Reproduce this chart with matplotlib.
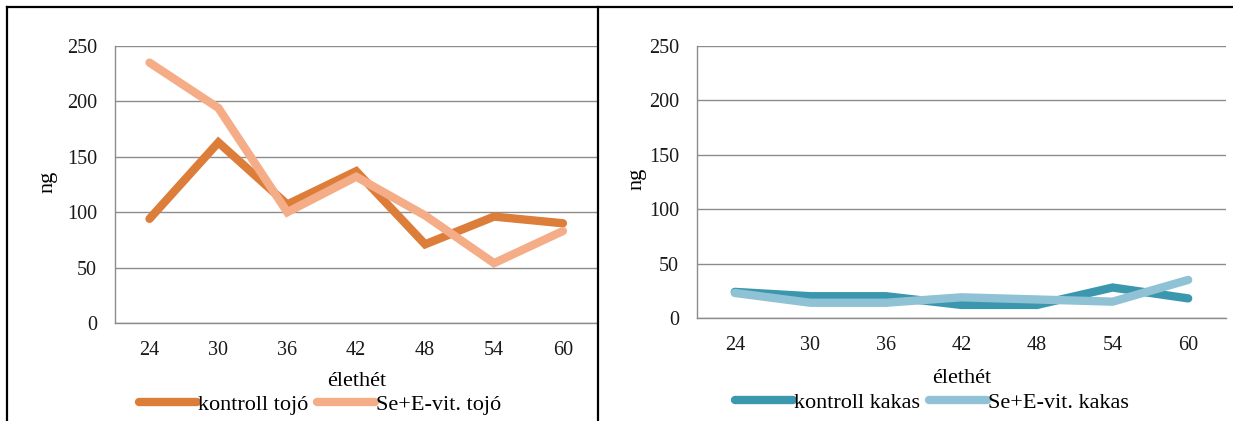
#!/usr/bin/env python3

import matplotlib
matplotlib.use("Agg")
import matplotlib.pyplot as plt
from matplotlib.lines import Line2D

weeks = ["24", "30", "36", "42", "48", "54", "60"]

kontroll_tojo = [94, 163, 107, 137, 71, 96, 90]
se_e_tojo = [235, 194, 100, 132, 97, 54, 83]

kontroll_kakas = [24, 20, 20, 12, 12, 28, 18]
se_e_kakas = [23, 14, 14, 19, 17, 15, 35]

plt.rcParams['font.family'] = ['Liberation Serif', 'DejaVu Serif']

GRID = '#8c8c8c'
FS = 14.5
LFS = 16


def draw_panel(ax, series, labels, colors, ylab_x, xlab_y, leg_xy):
    x = range(len(weeks))
    handles = []
    for vals, lab, col in zip(series, labels, colors):
        h, = ax.plot(x, vals, color=col, lw=6, label=lab,
                     solid_capstyle='round', solid_joinstyle='miter')
        handles.append(h)

    ax.set_xlim(-0.5, len(weeks) - 0.5)
    ax.set_ylim(0, 250)
    ax.set_yticks([0, 50, 100, 150, 200, 250])
    ax.set_xticks(list(x))
    ax.set_xticklabels(weeks)
    ax.tick_params(length=0, labelsize=FS, colors='#1a1a1a')
    ax.tick_params(axis='x', pad=13)
    ax.tick_params(axis='y', pad=13)
    ax.yaxis.grid(True, color=GRID, lw=1)
    ax.set_axisbelow(True)
    for side in ('top', 'right'):
        ax.spines[side].set_visible(False)
    for side in ('left', 'bottom'):
        ax.spines[side].set_color(GRID)
        ax.spines[side].set_linewidth(1)

    ax.set_ylabel('ng', fontsize=LFS, va='center')
    ax.yaxis.set_label_coords(ylab_x, 0.51)
    ax.set_xlabel('élethét', fontsize=LFS, va='center')
    ax.xaxis.set_label_coords(0.5, xlab_y)
    leg = ax.legend(handles=handles, loc='center', bbox_to_anchor=leg_xy,
                    ncol=2, frameon=False, fontsize=LFS, handlelength=2.6,
                    handletextpad=0.05, columnspacing=0.4, borderaxespad=0,
                    borderpad=0)
    for ln in leg.get_lines():
        ln.set_linewidth(6)


fig = plt.figure(figsize=(12.33, 4.21), dpi=100)

ax1 = fig.add_axes([0.0933, 0.2328, 0.3912, 0.658])
draw_panel(ax1, [kontroll_tojo, se_e_tojo],
           ['kontroll tojó', 'Se+E-vit. tojó'],
           ['#dc7d3a', '#f5ad88'],
           -0.139, -0.21, (0.425, -0.295))

ax2 = fig.add_axes([0.5653, 0.2447, 0.429, 0.6461])
draw_panel(ax2, [kontroll_kakas, se_e_kakas],
           ['kontroll kakas', 'Se+E-vit. kakas'],
           ['#3b97ae', '#8ec2d4'],
           -0.113, -0.222, (0.444, -0.312))

# frame around the two charts
W, H = 1233, 421
fig.add_artist(Line2D([7 / W, 1], [1 - 7 / H, 1 - 7 / H], color='black', lw=1.6))
fig.add_artist(Line2D([7 / W, 7 / W], [0, 1 - 7 / H], color='black', lw=1.6))
fig.add_artist(Line2D([598 / W, 598 / W], [0, 1 - 7 / H], color='black', lw=1.6))

fig.savefig('out.png', dpi=100)
